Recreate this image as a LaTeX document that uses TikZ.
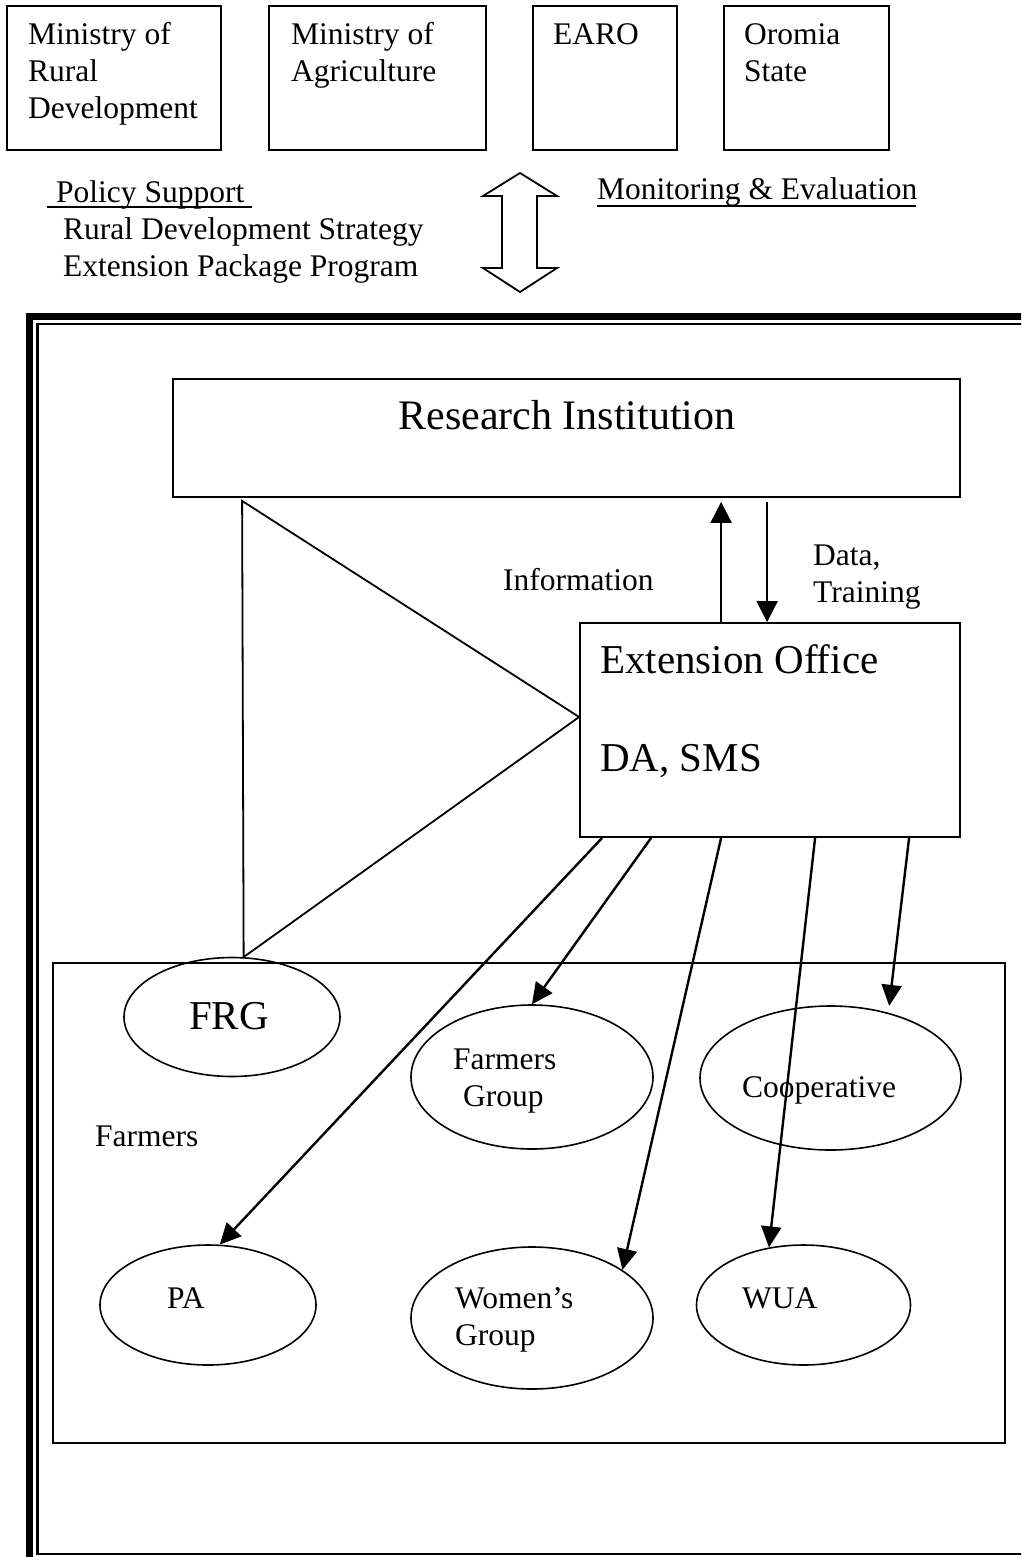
\documentclass[tikz,border=0pt]{standalone}
\usepackage{fontspec}
\setmainfont{Liberation Serif}
\usetikzlibrary{shapes.geometric,arrows.meta,calc}
\begin{document}
\begin{tikzpicture}[x=1pt,y=-1pt,
  box/.style={draw,line width=1.8pt,inner sep=0pt,rectangle},
  oval/.style={draw,line width=1.6pt,ellipse,inner sep=0pt},
  txt/.style={inner sep=0pt,anchor=base west,font=\fontsize{31.5}{37}\selectfont},
  bigtxt/.style={inner sep=0pt,font=\fontsize{41}{49}\selectfont},
  link/.style={line width=2pt,-{Triangle[length=21pt,width=21pt]}},
  feed/.style={line width=2.4pt,-{Triangle[length=21pt,width=20pt]}},
  uline/.style={line width=1.5pt},
]
\useasboundingbox (0,0) rectangle (1021,1557);
\fill[white] (0,0) rectangle (1021,1557);
\clip (0,0) rectangle (1021,1557);

% --- government bodies ---
\node[box,minimum width=214pt,minimum height=144pt] (mrd) at (114,78) {};
\node[box,minimum width=217pt,minimum height=144pt] (moa) at (377.5,78) {};
\node[box,minimum width=144pt,minimum height=144pt] (earo) at (605,78) {};
\node[box,minimum width=165pt,minimum height=144pt] (oro) at (806.5,78) {};
\node[txt] (mrdt) at (28,45) {\parbox[t]{190pt}{\raggedright Ministry of\\Rural\\Development}};
\node[txt] (moat) at (291,45) {\parbox[t]{190pt}{\raggedright Ministry of\\Agriculture}};
\node[txt] (earot) at (553,45) {EARO};
\node[txt] (orot) at (744,45) {\parbox[t]{140pt}{\raggedright Oromia\\State}};

% --- policy and monitoring ---
\node[txt] (pol) at (56,202) {Policy Support};
\draw[uline] (47,207) -- (252,207);
\node[txt] (rds) at (63,239) {Rural Development Strategy};
\node[txt] (epp) at (63,276) {Extension Package Program};
\node[txt] (mon) at (597,200) {Monitoring \& Evaluation};
\draw[uline] (597,206) -- (916,206);

% two-way block arrow
\draw[line width=1.8pt,line join=miter]
  (520,173) -- (557,196) -- (537,196) -- (537,268) -- (557,268) -- (520,292)
  -- (483,268) -- (502,268) -- (502,196) -- (483,196) -- cycle;

% --- outer double frame ---
\draw[line width=7pt] (29.5,316.5) rectangle (1070,1600);
\draw[line width=2.5pt] (37.5,324) rectangle (1045,1554);

% --- research and extension ---
\node[box,minimum width=787pt,minimum height=118pt] (ri) at (566.5,438) {};
\node[bigtxt,font=\fontsize{42}{50}\selectfont,anchor=base] (rit) at (567,429) {Research Institution};

\node[box,minimum width=380pt,minimum height=214pt] (ext) at (770,730) {};
\node[bigtxt,anchor=base west] (extt) at (600,673) {Extension Office};
\node[bigtxt,anchor=base west] (exts) at (600,771) {DA, SMS};

\node[txt] (info) at (503,590) {Information};
\node[txt] (data) at (813,565) {\parbox[t]{140pt}{\raggedright Data,\\Training}};

% --- farmers area ---
\node[box,minimum width=952pt,minimum height=480pt] (farm) at (529,1203) {};
\node[txt] (farmt) at (95,1146) {Farmers};

\node[oval,minimum width=216pt,minimum height=119pt] (frg) at (232,1017) {};
\node[oval,minimum width=242pt,minimum height=144pt] (fg) at (532,1077) {};
\node[oval,minimum width=261pt,minimum height=144pt] (coop) at (830.5,1078) {};
\node[oval,minimum width=216pt,minimum height=120pt] (pa) at (208,1305) {};
\node[oval,minimum width=242pt,minimum height=142pt] (wg) at (532,1318) {};
\node[oval,minimum width=214pt,minimum height=120pt] (wua) at (803.5,1305) {};

\node[bigtxt,anchor=base] (frgt) at (229,1029) {FRG};
\node[txt] (fgt) at (453,1069) {\parbox[t]{150pt}{\raggedright Farmers\\\hspace*{10pt}Group}};
\node[txt] (coopt) at (742,1097) {Cooperative};
\node[txt] (pat) at (167,1308) {PA};
\node[txt] (wgt) at (455,1308) {\parbox[t]{150pt}{\raggedright Women’s\\Group}};
\node[txt] (wuat) at (742,1308) {WUA};

% --- links ---
\coordinate (tri) at ($(ri.south west)+(70,3)$);
\coordinate (apex) at ($(ext.west)+(0,-13)$);
\draw[line width=1.8pt] (tri) -- (apex) -- (frg.79) -- cycle;

\draw[link] ($(ext.north west)+(142,0)$) -- ($(ri.south west)+(549,4)$);
\draw[link] ($(ri.south west)+(595,4)$) -- ($(ext.north west)+(188,0)$);

\draw[feed] ($(ext.south west)+(23,0)$) -- (pa.79);
\draw[feed] ($(ext.south west)+(72,0)$) -- (fg.north);
\draw[feed] ($(ext.south west)+(142,0)$) -- (wg.28);
\draw[feed] ($(ext.south west)+(236,0)$) -- (wua.121);
\draw[feed] ($(ext.south west)+(330,0)$) -- ($(coop.48)+(0,-7)$);
\end{tikzpicture}
\end{document}
